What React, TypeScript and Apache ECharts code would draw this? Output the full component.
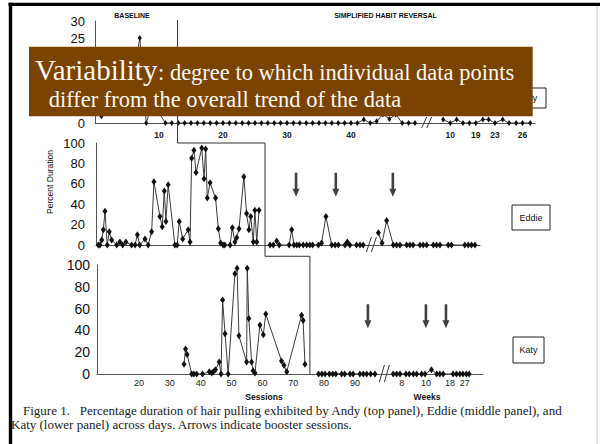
import React, { useEffect, useRef } from 'react';
import * as echarts from 'echarts';

const SANS = 'Liberation Sans, Arial, sans-serif';
const SERIF = 'Liberation Serif, Times New Roman, serif';

// ---------- Andy (top panel) : [session position, % value] ----------
const andyBaseline = [[1, 2], [2, 8], [3, 12], [4, 5], [5, 10], [6, 14], [7, 25], [8, 0], [9, 6], [10, 3], [11, 0], [12, 0]];
const andyTreatment = [
  [13, 0], [14, 0], [15, 0], [16, 0], [17, 0], [18, 0], [19, 0], [20, 0], [21, 0], [22, 0], [23, 0], [24, 0], [25, 0],
  [26, 0], [27, 0], [28, 0], [29, 0], [30, 0], [31, 0], [32, 0], [33, 0], [34, 0], [35, 0], [36, 0], [37, 0], [38, 0],
  [39, 0], [40, 0], [41, 0], [42, 1], [43, 0], [44, 0.5], [45, 2.5], [46, 1.2], [47, 2.5], [48, 0], [49, 0], [50, 0],
];
const andyFollowUp = [[54.4, 1], [55.5, 0], [56.5, 1], [57.5, 0], [58.5, 0], [59.5, 0], [60.6, 1], [61.5, 1], [62.5, 0], [63.7, 1], [64.7, 0], [65.8, 0], [66.8, 0], [68, 0]];
const andyTickPos = [10, 20, 30, 40, 55.5, 59.5, 62.5, 66.8];
const andyTickText = ['10', '20', '30', '40', '10', '19', '23', '26'];
const andyYLabels = [0, 25, 30]; // the others sit under the overlay box
const andyPhase = 12.9;
const andyBreak = 51.9;

// ---------- Eddie (middle panel) ----------
const eddieBaseline = [
  [1, 0], [1.7, 0], [2.5, 5], [3.2, 15], [3.9, 33], [4.9, 0], [5.8, 13], [6.8, 5], [9, 0], [10.4, 3], [11.6, 0], [13, 3],
  [15.5, 0], [17, 0], [18, 10], [19, 0], [21.3, 6], [22.7, 0], [24.2, 13], [25.2, 62], [27.8, 28], [28.8, 18], [29.7, 53],
  [30.4, 23], [31.4, 59], [34.3, 0], [35.3, 0], [36.2, 23], [37.7, 6], [40.1, 15], [40.9, 3], [41.6, 85], [42.6, 93],
  [43.5, 71], [46, 95], [47, 65], [47.7, 94], [48.4, 46], [49.6, 61], [52, 46], [53.2, 16], [54.2, 2], [55.3, 0], [56, 0],
  [58.3, 0], [59.3, 17], [60.4, 3], [61.2, 7], [62.2, 16], [64.3, 67], [65.5, 31], [66.5, 15], [67.3, 28], [68.4, 3],
  [69.1, 34], [69.9, 3], [70.9, 34],
];
const eddieTreatment = [
  [75.7, 0], [77.1, 0], [78.6, 4], [79.7, 0], [84, 0], [85.1, 15], [86.1, 0], [87.3, 0], [88.4, 0], [90.1, 0], [91.6, 0],
  [93, 0], [94.2, 0], [96.7, 0], [98.1, 2], [100, 28], [102.5, 0], [104, 0], [105.4, 0], [108.3, 0], [109.3, 3], [110.4, 0],
  [113.3, 0], [114.8, 0], [116.2, 0],
];
const eddieFollowUp = [
  [122.8, 12], [124.4, 2], [126.4, 24], [129.3, 0], [130.7, 0], [132.2, 0], [135.1, 0], [136.5, 0], [137.9, 0], [140.9, 0],
  [142.3, 0], [143.8, 0], [146.7, 0], [148.1, 0], [149.6, 0], [153.2, 0], [154.6, 0], [160.4, 0], [161.9, 0], [163.3, 0], [164.8, 0],
];
const eddieBoosters = [87, 104.3, 129.1];
const eddiePhase = 73.5;
const eddieBreak = 120;

// ---------- Katy (bottom panel) ----------
const katyBaseline = [
  [34.6, 9], [35.1, 23], [35.6, 18], [37.1, 0], [37.8, 0], [38.7, 0], [40.6, 0], [42.8, 2], [43.6, 1], [44.1, 2], [44.8, 4],
  [46, 11], [46.6, 0], [47.1, 68], [47.9, 37], [48.9, 0], [51.1, 92], [51.8, 97], [52.4, 35], [54.9, 11], [55.1, 97],
  [55.6, 51], [56.5, 11], [57, 3], [57.6, 1], [59.2, 45], [60.3, 36], [61.1, 55], [66.2, 12], [67, 8], [67.9, 2],
  [72.7, 54], [73.2, 49], [73.8, 9],
];
const katyTreatment = [
  [78.2, 0], [79.3, 0], [80.3, 0], [81.7, 0], [82.8, 0], [83.8, 0], [85.7, 0], [86.7, 0], [88.4, 0], [89.4, 0], [91.6, 0],
  [92.7, 0], [93.8, 0], [95.1, 0], [96.5, 0],
];
const katyFollowUp = [
  [102.4, 0], [103.5, 0], [104.6, 0], [106.5, 0], [107.6, 0], [108.9, 0], [110, 0], [111.6, 0], [112.7, 0], [114.8, 4],
  [116.5, 0], [117.5, 0], [118.6, 0], [121.8, 0], [122.9, 0], [124, 0], [125, 0], [126.1, 0], [127, 0],
];
const katyBoosters = [94.2, 113, 119.5];
const katyTickPos = [20, 30, 40, 50, 60, 70, 80, 90, 105.2, 113, 120.8, 125.6];
const katyTickText = ['20', '30', '40', '50', '60', '70', '80', '90', '8', '10', '18', '27'];
const katyPhase = 75.4;
const katyBreak = 99.7;

const ARROW = 'path://M2.2,0 L4.8,0 L4.8,16 L7,16 L3.5,24 L0,16 L2.2,16 Z';

const lookup = (pos: number[], txt: string[]) => (v: number) => {
  let best = 0;
  for (let i = 1; i < pos.length; i++) if (Math.abs(pos[i] - v) < Math.abs(pos[best] - v)) best = i;
  return txt[best];
};

const lineSeries = (data: number[][], g: number, size: number[]) => ({
  type: 'line',
  xAxisIndex: g,
  yAxisIndex: g,
  data,
  symbol: 'diamond',
  symbolSize: size,
  showSymbol: true,
  lineStyle: { color: '#3a3a3a', width: 1 },
  itemStyle: { color: '#111' },
  z: 3,
});

const xBase = {
  type: 'value',
  axisLine: { show: true, onZero: true, lineStyle: { color: '#555', width: 1 } },
  axisTick: { show: false },
  splitLine: { show: false },
};
const yBase = {
  type: 'value',
  axisLine: { show: true, lineStyle: { color: '#555', width: 1 } },
  axisTick: { show: false },
  splitLine: { show: false },
};

export default function App() {
  const ref = useRef<HTMLDivElement>(null);
  useEffect(() => {
    const chart = echarts.init(ref.current!, null, { renderer: 'svg', width: 600, height: 444 });
    chart.setOption({
      animation: false,
      backgroundColor: '#ffffff',
      grid: [
        { left: 95, top: 21, width: 440, height: 102, outerBoundsMode: 'none' },
        { left: 96, top: 143, width: 384, height: 102, outerBoundsMode: 'none' },
        { left: 97, top: 265, width: 386, height: 109, outerBoundsMode: 'none' },
      ],
      xAxis: [
        {
          ...xBase, gridIndex: 0, min: 0, max: 68.75,
          axisLabel: {
            customValues: andyTickPos, formatter: lookup(andyTickPos, andyTickText),
            fontSize: 8.5, fontWeight: 'bold', fontFamily: SANS, color: '#222', margin: 7,
          },
        },
        { ...xBase, gridIndex: 1, min: 0, max: 167, axisLabel: { show: false } },
        {
          ...xBase, gridIndex: 2, min: 6.4, max: 131.5,
          axisLabel: {
            customValues: katyTickPos, formatter: lookup(katyTickPos, katyTickText),
            fontSize: 9, fontFamily: SANS, color: '#222', margin: 4,
          },
        },
      ],
      yAxis: [
        {
          ...yBase, gridIndex: 0, min: 0, max: 30, interval: 5,
          axisLabel: { customValues: andyYLabels, fontSize: 13, fontFamily: SANS, color: '#111', margin: 10 },
        },
        { ...yBase, gridIndex: 1, min: 0, max: 100, interval: 20, axisLabel: { fontSize: 13, fontFamily: SANS, color: '#111', margin: 11 } },
        { ...yBase, gridIndex: 2, min: 0, max: 100, interval: 20, axisLabel: { fontSize: 14, fontFamily: SANS, color: '#111', margin: 7 } },
      ],
      series: [
        lineSeries(andyBaseline, 0, [4, 6]),
        lineSeries(andyTreatment, 0, [4, 6]),
        lineSeries(andyFollowUp, 0, [4, 6]),
        lineSeries(eddieBaseline, 1, [5, 7]),
        lineSeries(eddieTreatment, 1, [5, 7]),
        lineSeries(eddieFollowUp, 1, [5, 7]),
        lineSeries(katyBaseline, 2, [5, 7]),
        lineSeries(katyTreatment, 2, [5, 7]),
        lineSeries(katyFollowUp, 2, [5, 7]),
        {
          type: 'scatter', xAxisIndex: 1, yAxisIndex: 1, symbol: ARROW, symbolSize: [7, 24],
          data: eddieBoosters.map((x) => [x, 59]), itemStyle: { color: '#111' }, z: 4,
        },
        {
          type: 'scatter', xAxisIndex: 2, yAxisIndex: 2, symbol: ARROW, symbolSize: [7, 24],
          data: katyBoosters.map((x) => [x, 53]), itemStyle: { color: '#111' }, z: 4,
        },
      ],
    });

    const px = (g: number, x: number, y: number) => chart.convertToPixel({ gridIndex: g } as any, [x, y]) as number[];
    const a0 = px(0, andyPhase, 30.3);
    const eTop = px(1, eddiePhase, 100);
    const kTop = px(2, katyPhase, 108);
    const kBot = px(2, katyPhase, 0);
    const phasePts = [
      [a0[0], a0[1]], [a0[0], eTop[1]], [eTop[0], eTop[1]], [eTop[0], kTop[1]], [kTop[0], kTop[1]], [kBot[0], kBot[1]],
    ];
    const slashes = (g: number, pos: number, up: number, down: number, dx: number) => {
      const c = px(g, pos, 0);
      return [-3, 2].map((o) => ({
        type: 'line', z: 20,
        shape: { x1: c[0] + o - dx / 2, y1: c[1] + down, x2: c[0] + o + dx / 2, y2: c[1] - up },
        style: { stroke: '#333', lineWidth: 1 },
      }));
    };
    const txt = (text: string, x: number, y: number, size: number, extra: any = {}, z = 30) => ({
      type: 'text', x, y, z,
      style: {
        text, fontSize: size, fontFamily: SANS, fill: '#111',
        align: 'center', verticalAlign: 'middle', textAlign: 'center', textVerticalAlign: 'middle', ...extra,
      },
    });
    const box = (x: number, y: number, w: number, h: number, z = 30) => ({
      type: 'rect', z, shape: { x, y, width: w, height: h }, style: { fill: '#fff', stroke: '#222', lineWidth: 1 },
    });
    const left = { align: 'left', textAlign: 'left' };
    const onBrown = { fontFamily: SERIF, fill: '#fbf7f0', ...left };

    chart.setOption({
      graphic: {
        elements: [
          { type: 'polyline', z: 15, shape: { points: phasePts }, style: { stroke: '#333', lineWidth: 1, fill: null } },
          ...slashes(0, andyBreak, 6, 5, 5),
          ...slashes(1, eddieBreak, 8, 7, 5),
          ...slashes(2, katyBreak, 9, 8, 5),
          txt('BASELINE', 132, 15, 7, { fontWeight: 'bold' }),
          txt('SIMPLIFIED HABIT REVERSAL', 385.5, 15, 7, { fontWeight: 'bold' }),
          { ...txt('Percent Duration', 50, 182, 8.5), rotation: Math.PI / 2 },
          box(507, 88, 39, 20, 40),
          txt('Andy', 527, 98, 9, {}, 41),
          box(512, 205, 38, 25),
          txt('Eddie', 531, 217.5, 9, {}, 31),
          box(513, 337, 31, 26),
          txt('Katy', 528.5, 350, 9, {}, 31),
          txt('Sessions', 264, 397, 8.5, { fontWeight: 'bold' }),
          txt('Weeks', 427, 397, 8.5, { fontWeight: 'bold' }),
          txt('Figure 1.\u00a0\u00a0 Percentage duration of hair pulling exhibited by Andy (top panel), Eddie (middle panel), and',
            23, 410, 13, { fontFamily: SERIF, fill: '#1a1a1a', ...left }),
          txt('Katy (lower panel) across days. Arrows indicate booster sessions.',
            11, 424, 13, { fontFamily: SERIF, fill: '#1a1a1a', ...left }),
          // overlay definition box
          { type: 'rect', z: 100, shape: { x: 29, y: 46.7, width: 503.7, height: 69.6 }, style: { fill: '#7A4300' } },
          txt('Variability', 35, 70.2, 29, onBrown, 101),
          txt(': degree to which individual data points', 158, 72.4, 22.5, onBrown, 101),
          txt(' differ from the overall trend of the data', 43, 99.5, 22.5, onBrown, 101),
          // slide frame
          { type: 'rect', z: 120, shape: { x: 8.5, y: 2.7, width: 592, height: 3.3 }, style: { fill: '#000' } },
          { type: 'rect', z: 120, shape: { x: 8.8, y: 2.7, width: 3.4, height: 442 }, style: { fill: '#000' } },
          { type: 'line', z: 120, shape: { x1: 597, y1: 6, x2: 597, y2: 444 }, style: { stroke: '#c4c4c4', lineWidth: 1 } },
        ],
      },
    });
    return () => chart.dispose();
  }, []);
  return <div ref={ref} style={{ position: 'absolute', left: 0, top: 0, width: 600, height: 444 }} />;
}
